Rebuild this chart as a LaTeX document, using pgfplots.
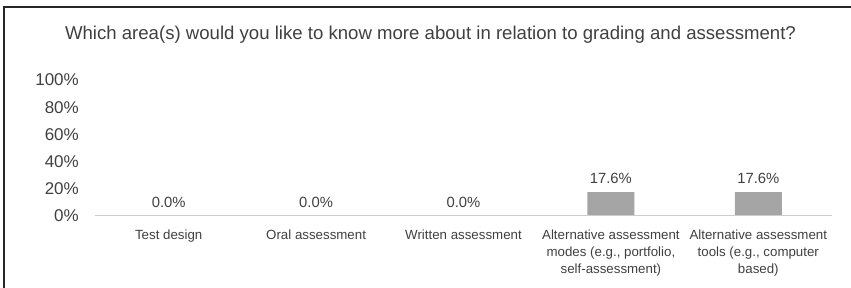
\documentclass[border=0pt]{standalone}
\usepackage{fontspec}
\setmainfont{Liberation Sans}
\usepackage{pgfplots}
\pgfplotsset{compat=1.18}
\definecolor{txt}{RGB}{64,64,64}
\definecolor{barc}{RGB}{165,165,165}
\definecolor{axc}{RGB}{205,205,205}
\begin{document}
\begin{tikzpicture}[x=1pt,y=1pt]
\useasboundingbox (0pt,0pt) rectangle (851pt,288pt);
\begin{axis}[
  at={(168.7pt,72pt)}, anchor=origin,
  scale only axis, width=737pt, height=136pt,
  xmin=-0.5, xmax=4.5, ymin=0, ymax=100,
  axis line style={draw=none},
  major tick length=0pt,
  ytick={0,20,40,60,80,100},
  yticklabels={0\%,20\%,40\%,60\%,80\%,100\%},
  yticklabel style={font=\fontsize{17}{20}\selectfont, text=txt, anchor=east, inner sep=0pt},
  yticklabel shift=16pt,
  xtick={0,1,2,3,4},
  xticklabels={Test design, Oral assessment, Written assessment, {Alternative assessment\\modes (e.g., portfolio,\\self-assessment)}, {Alternative assessment\\tools (e.g., computer\\based)}},
  xticklabel style={font=\fontsize{13.3}{16.8}\selectfont, text=txt, align=center, anchor=north, inner sep=0pt},
  xticklabel shift=14pt,
  ybar, bar width=47pt,
  nodes near coords={\pgfmathprintnumber[fixed,fixed zerofill,precision=1,assume math mode=true]{\pgfplotspointmeta}\%},
  every node near coord/.append style={font=\fontsize{14.8}{18}\selectfont, text=txt, anchor=south, inner sep=0pt, yshift=8pt},
  clip=false,
]
\addplot[fill=barc, draw=none] coordinates {(0,0) (1,0) (2,0) (3,17.6) (4,17.6)};
\draw[axc, line width=1pt] (rel axis cs:0,0) -- (rel axis cs:1,0);
\end{axis}
\node[anchor=base, text=txt, font=\fontsize{18.6}{22}\selectfont, inner sep=0pt] at (430.5pt,248pt) {Which area(s) would you like to know more about in relation to grading and assessment?};
\fill[black!85] (3.3pt,0pt) rectangle (4.7pt,281.6pt);
\fill[black!85] (3.3pt,280.2pt) rectangle (851pt,281.6pt);
\end{tikzpicture}
\end{document}
